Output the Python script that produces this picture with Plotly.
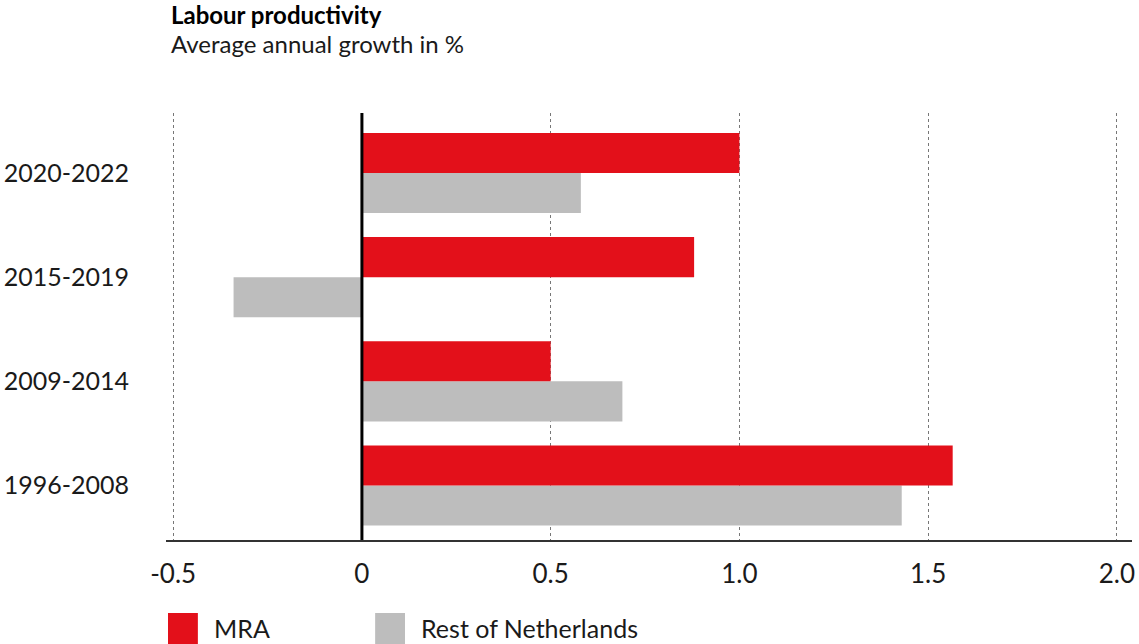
import plotly.graph_objects as go

# Periods (bottom to top) and average annual labour productivity growth, %
periods = ["1996-2008", "2009-2014", "2015-2019", "2020-2022"]
mra_growth = [1.565, 0.50, 0.88, 1.00]
rest_growth = [1.43, 0.69, -0.34, 0.58]

series_names = ["MRA", "Rest of Netherlands"]
x_tick_values = [-0.5, 0, 0.5, 1.0, 1.5, 2.0]
x_tick_labels = ["-0.5", "0", "0.5", "1.0", "1.5", "2.0"]

RED = "#E3101A"
GREY = "#BDBDBD"
FONT = "Lato"
TEXT = "#1a1a1a"

W, H = 1139, 644
M_L, M_R, M_T, M_B = 165, 4, 113, 104
PW, PH = W - M_L - M_R, H - M_T - M_B


def px_x(px):
    return (px - M_L) / PW


def px_y(py):
    return (H - M_B - py) / PH


fig = go.Figure()
# grouped horizontal bars: first trace sits at the bottom of each group
fig.add_trace(go.Bar(y=periods, x=rest_growth, orientation="h", name=series_names[1],
                     marker=dict(color=GREY, line=dict(width=0)), showlegend=False))
fig.add_trace(go.Bar(y=periods, x=mra_growth, orientation="h", name=series_names[0],
                     marker=dict(color=RED, line=dict(width=0)), showlegend=False))

# vertical zero line above the bars
fig.add_shape(type="line", xref="x", yref="paper", x0=0, x1=0, y0=0, y1=1,
              line=dict(color="black", width=3), layer="above")

# custom legend below the chart
legend_items = [(series_names[0], RED, 167, 211), (series_names[1], GREY, 375, 419)]
for name, color, sx, tx in legend_items:
    fig.add_shape(type="rect", xref="paper", yref="paper",
                  x0=px_x(sx), x1=px_x(sx + 30), y0=px_y(613), y1=px_y(644),
                  fillcolor=color, line=dict(width=0))
    fig.add_annotation(xref="paper", yref="paper", x=px_x(tx), y=px_y(628),
                       xanchor="left", yanchor="middle", showarrow=False,
                       text=name, font=dict(family=FONT, size=25, color=TEXT))

# title block
fig.add_annotation(xref="paper", yref="paper", x=px_x(168), y=px_y(31),
                   xanchor="left", yanchor="bottom", showarrow=False,
                   text="<b>Labour productivity</b>",
                   font=dict(family=FONT, size=24, color="black"))
fig.add_annotation(xref="paper", yref="paper", x=px_x(168), y=px_y(27),
                   xanchor="left", yanchor="top", showarrow=False,
                   text="Average annual growth in %",
                   font=dict(family=FONT, size=24, color=TEXT))

fig.update_layout(
    width=W, height=H,
    margin=dict(l=M_L, r=M_R, t=M_T, b=M_B),
    paper_bgcolor="white", plot_bgcolor="white",
    barmode="group", bargap=0.23, bargroupgap=0,
    font=dict(family=FONT, size=26, color=TEXT),
    xaxis=dict(range=[-0.519, 2.040], tickvals=x_tick_values, ticktext=x_tick_labels,
               showgrid=True, gridcolor="#777777", gridwidth=1, griddash="dot",
               zeroline=False, showline=True, linecolor="#333333", linewidth=2,
               ticks="", ticklabelstandoff=10, ticklabeloverflow="allow",
               tickfont=dict(family=FONT, size=26, color=TEXT)),
    yaxis=dict(range=[-0.523, 3.576], categoryorder="array", categoryarray=periods,
               showgrid=False, zeroline=False, showline=False, ticks="",
               ticklabelstandoff=36,
               tickfont=dict(family=FONT, size=25, color=TEXT)),
)

fig.write_html("out.html")
